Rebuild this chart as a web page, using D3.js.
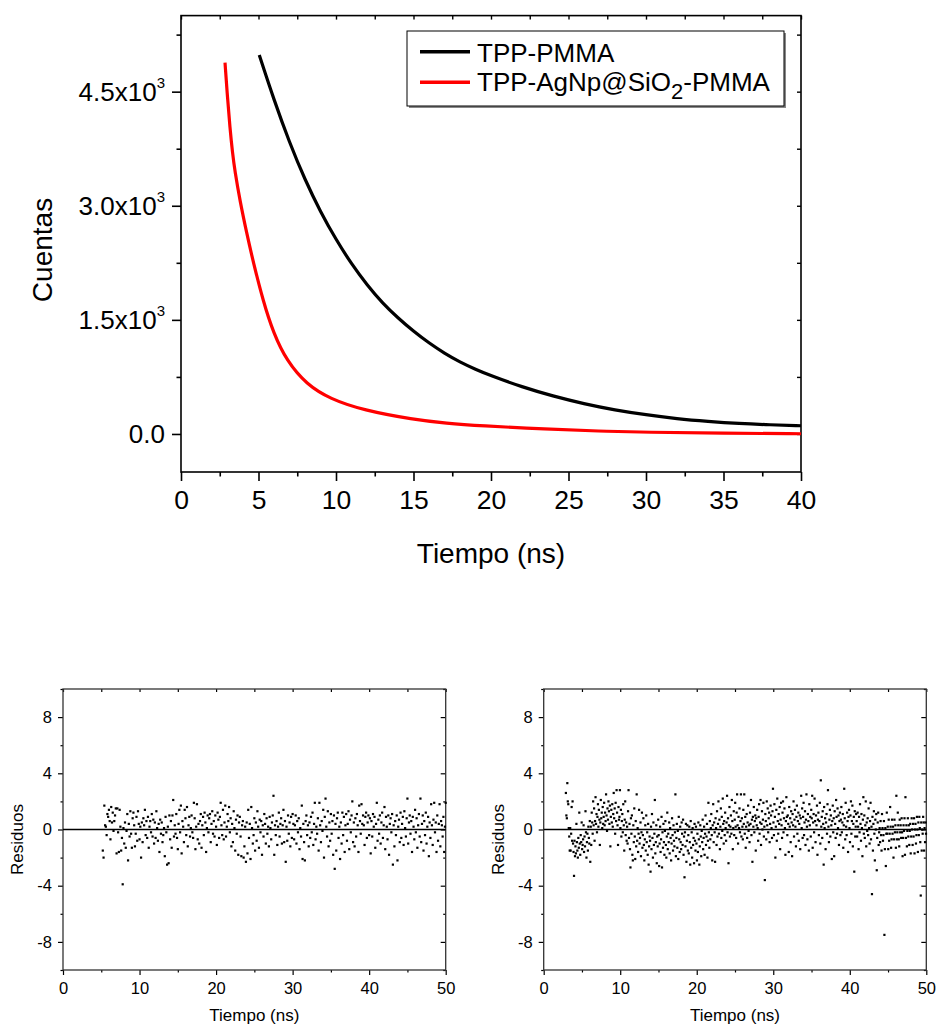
<!DOCTYPE html>
<html><head><meta charset="utf-8">
<script src="https://cdn.jsdelivr.net/npm/d3@7"></script>
<style>body{margin:0;background:#fff}svg text{font-family:"Liberation Sans",Arial,sans-serif}</style>
</head><body><svg id="c" width="937" height="1027"></svg>
<script>
// ---------- data: decay curves ----------
const blackT = [5.05,6,7,8,9,10,11,12,13,14,15,16,17,18,19,20,22,24,26,28,30,32,34,36,38,40];
const blackC = [4982,4390,3830,3340,2920,2555,2235,1960,1720,1525,1350,1195,1060,945,850,765,618,497,396,314,252,200,165,137,120,108];
const redT = [2.84,3.0,3.16,3.32,3.48,3.81,4.24,4.66,5.31,5.96,6.82,8.11,9.61,11.76,14.99,17.14,19.29,23.59,27,30,35,40];
const redC = [4881,4420,4020,3700,3450,3060,2640,2260,1740,1330,960,650,462,312,190,140,108,62,38,22,9,3];
const seriesNames = ["TPP-PMMA","TPP-AgNp@SiO","2","-PMMA"];
const xTicksTop = [0,5,10,15,20,25,30,35,40];
const yTicksTop = [0,1500,3000,4500];
const yTickMant = ["0.0","1.5x10","3.0x10","4.5x10"];
const yTickSup = ["","3","3","3"];
// ---------- data: residuals ----------
const resA_t0 = 5.2, resA_dt = 0.1;
const resA = [-1.5,-2.0,1.7,0.3,0.2,-0.4,1.1,0.9,1.4,0.6,
-0.7,1.6,0.5,1.2,-0.1,0.6,1.0,1.5,-1.7,1.5,
-0.2,-1.6,1.4,0.2,-1.5,-0.6,-3.9,0.1,-1.0,0.5,
-1.3,-0.1,1.1,-2.2,0.4,-0.5,1.3,-0.3,-1.3,0.8,
1.2,0.3,-1.2,-0.3,0.9,-0.8,1.3,0.4,-0.7,0.2,
-2.0,0.5,-0.9,0.8,0.3,1.4,-0.4,0.6,-0.6,0.9,
-1.3,0.2,0.6,-0.2,1.1,-0.5,0.7,-1.0,0.5,-0.6,
1.3,0.1,-0.8,0.4,-1.6,0.7,-0.3,0.5,-0.9,-0.4,
0.1,-1.9,0.9,-0.2,-2.5,0.2,-2.4,1.0,-0.7,0.6,
-1.3,1.0,2.1,-0.5,0.3,-0.3,1.1,-0.6,-1.4,0.4,
1.4,-0.2,1.7,-1.7,0.6,0.2,-0.9,1.4,0.8,-0.4,
1.6,-1.2,0.3,0.9,-0.5,0.1,1.0,-0.2,-0.6,1.9,
0.8,-1.4,0.2,1.8,-0.7,0.4,-1.0,0.6,1.1,-1.3,
0.3,0.9,-0.4,1.2,0.5,-1.6,0.1,1.0,-0.2,0.8,
1.1,-0.9,0.4,1.3,-0.3,0.6,-0.5,1.0,0.2,-1.1,
1.2,0.7,-0.6,0.9,1.9,0.3,-0.4,1.4,-0.7,0.5,
1.7,-0.5,0.2,1.1,0.6,1.6,-0.2,0.8,-1.2,0.4,
-0.9,1.3,0.1,-1.5,0.7,-0.3,1.0,-1.8,0.5,0.9,
-0.5,-1.9,0.3,0.6,-2.0,-1.2,0.2,-2.3,0.5,-1.7,
1.4,-0.6,0.4,-2.1,1.6,0.1,-1.0,-0.4,0.8,-1.5,
0.5,-0.8,1.3,0.2,-1.3,0.7,-0.2,0.6,-1.8,0.3,
-0.5,1.1,0.4,-1.0,0.8,-0.3,0.2,-1.2,0.9,0.1,
-0.7,0.5,1.0,2.4,-1.8,0.3,-0.4,0.6,-1.1,0.2,
1.2,-0.5,0.4,0.8,-1.0,0.3,1.4,-0.9,0.6,-2.3,
0.2,-0.8,1.0,-0.3,0.5,-1.2,0.9,-0.6,1.1,0.4,
-0.7,0.3,1.0,-1.0,0.6,-0.2,0.8,-1.4,0.1,-0.5,
1.7,-2.1,0.4,-0.9,-2.2,0.6,1.0,-0.4,0.3,-1.2,
0.5,-0.6,0.9,-0.2,1.2,-1.1,0.4,1.9,-0.7,0.2,
-0.3,0.8,-1.5,1.9,0.3,-0.9,0.6,-0.1,1.4,-2.0,
0.9,2.2,0.2,-0.5,1.3,-1.2,0.5,-0.8,1.1,-0.3,
0.6,-1.8,1.0,-2.8,0.4,-1.5,0.8,1.2,-0.6,0.2,
-2.1,0.5,-1.0,1.2,-0.4,0.9,-1.6,0.3,1.1,-0.8,
0.4,1.3,-1.4,0.7,-0.2,1.0,2.0,-0.9,0.5,-1.2,
0.8,-0.5,1.1,0.3,-1.6,1.7,0.6,-0.3,1.8,0.4,
1.0,0.3,-1.1,0.9,1.2,-0.6,0.5,1.0,-0.4,0.8,
-1.7,0.6,-0.5,1.1,0.2,0.9,-1.3,0.4,1.9,-0.8,
0.7,-0.3,1.0,-1.0,0.5,1.2,-0.6,0.3,1.6,-1.4,
0.9,0.2,-0.7,1.0,-1.8,0.4,0.8,-0.2,1.1,-2.5,
0.3,-1.2,0.6,-0.4,1.0,-2.2,0.2,0.7,-0.9,1.2,
-0.6,0.4,0.9,-1.1,1.3,0.1,-0.5,0.8,2.2,-1.0,
0.5,1.0,-0.3,0.6,-1.6,0.9,0.2,-0.7,1.4,-0.2,
0.8,-1.3,0.3,1.1,-0.5,2.2,-0.9,0.4,1.0,-1.5,
0.6,-0.4,1.2,-1.0,0.2,0.9,-1.9,0.5,-0.6,1.8,
0.3,-1.1,0.7,1.9,-0.2,0.5,-1.6,1.0,-0.8,0.4,
1.8,-1.2,0.6,0.3,-0.5,0.9,-1.6,0.2,1.9];
const resB_t0 = 2.9, resB_dt = 0.0625;
const resB = [2.6,1.0,0.8,3.3,2.0,1.8,0.1,-0.5,-1.5,0.1,-1.5,-0.3,1.6,-0.8,2.0,-1.0,
-1.6,-3.3,-0.8,-1.9,-1.2,-1.7,0.4,-0.9,-1.5,-2.0,-0.6,-1.3,1.2,-1.0,-1.8,-0.4,
-0.9,0.5,-1.4,-1.1,-0.7,0.3,-1.6,-0.5,-1.2,1.3,-0.2,-2.0,-0.9,-0.3,-1.5,0.2,
-0.6,-1.0,0.6,-2.3,0.2,-1.1,1.2,0.5,-0.3,2.0,0.3,1.5,-0.8,0.6,2.3,0.4,
1.1,-0.2,0.9,1.8,0.2,1.4,0.7,-1.1,0.5,2.1,0.8,1.2,0.1,1.6,0.4,0.9,
1.9,0.3,1.2,0.6,2.5,1.0,-0.1,1.5,0.7,2.0,1.3,0.4,1.7,-1.2,0.9,1.4,
0.5,1.8,0.2,1.1,2.6,0.8,1.5,-0.3,1.9,0.6,2.8,1.2,0.3,-1.1,1.6,0.7,
0.9,2.8,0.1,1.4,-0.5,0.6,1.1,-0.2,1.8,0.3,-1.5,0.7,2.0,-0.4,0.5,-0.8,
0.2,-1.0,1.3,2.8,-0.6,0.4,-1.4,-2.7,0.8,-0.3,1.0,-1.8,-2.2,0.3,-0.9,1.5,
-0.5,-2.1,0.6,-1.2,2.5,-0.8,0.1,-1.6,-0.3,1.4,-1.0,-0.6,0.5,-1.9,-0.2,1.2,
-1.3,-0.4,0.8,-1.1,-2.2,-0.7,0.3,-1.5,1.0,-0.9,-0.2,-1.8,0.4,-2.5,-1.2,-0.5,
-0.8,-3.0,0.2,-1.4,1.1,-0.6,-2.0,0.5,-1.1,-0.3,2.1,-1.7,-0.9,0.3,-2.4,-0.5,
-1.2,0.7,-0.4,-2.6,-1.0,0.2,-1.6,-0.7,0.9,-2.7,-0.2,-1.3,0.4,-0.9,-1.8,-0.1,
0.6,-1.1,-2.0,-0.5,1.2,-1.4,-0.3,-0.9,0.5,-1.7,0.1,-0.6,-2.2,-1.0,0.8,-0.4,
-1.5,0.3,-0.8,-1.2,-0.2,2.5,-1.9,-0.6,0.4,-1.3,-0.1,-2.1,0.9,-0.7,-1.6,0.2,
-0.9,-1.4,0.5,-0.3,-1.1,0.7,-1.8,-0.5,-3.4,-0.2,-1.2,0.4,-2.3,-0.8,0.3,-1.5,
-0.4,-1.7,0.2,-0.9,-2.5,0.6,-1.3,-0.2,-2.0,0.1,-1.1,-0.6,-2.4,0.4,-0.8,-1.5,
0.2,-1.0,-2.2,-0.3,-1.6,0.5,-0.7,-2.5,-1.2,0.3,-0.5,-1.9,-0.1,-0.9,0.7,-1.4,
-0.6,0.2,-1.8,-0.3,1.0,-1.1,-0.5,0.4,-2.0,-0.8,1.9,-0.2,-1.3,0.6,-0.7,0.1,
1.1,-0.4,-2.2,0.3,1.8,-0.9,0.5,-0.2,-2.3,0.8,0.1,-1.1,1.3,-0.5,0.4,2.0,
-0.3,0.7,-1.4,0.2,1.5,-0.6,0.9,-0.1,2.2,0.4,-1.0,0.6,-0.4,1.2,0.1,-0.8,
0.5,2.4,-0.2,0.8,-2.4,0.3,1.6,-0.5,0.2,1.0,-0.3,2.1,0.6,-1.4,0.1,1.3,
-0.4,0.7,1.9,0.2,-0.6,1.2,2.5,0.3,-1.0,0.9,0.1,1.5,-0.2,0.6,2.5,-0.5,
0.8,0.2,-0.7,1.4,0.4,2.5,-0.3,0.9,-1.3,0.2,1.1,-0.6,0.5,1.7,-0.1,0.3,
-0.9,1.2,0.4,2.1,-0.4,0.7,-2.3,0.9,0.2,1.6,-0.2,0.6,1.0,-1.5,0.8,0.3,
1.4,0.1,-0.8,0.9,1.8,-0.3,0.5,2.1,-1.1,0.4,1.3,0.0,0.7,1.9,-0.5,0.2,
-3.6,1.1,0.6,-0.7,2.0,0.3,1.5,-0.2,0.8,1.2,-0.9,0.4,1.7,1.0,0.1,-0.6,
1.3,2.9,0.5,-0.4,1.8,0.9,-2.0,0.2,1.4,-0.8,2.2,0.6,-0.3,1.1,0.4,1.6,
-1.4,0.7,1.9,0.3,-0.6,1.2,2.0,-0.2,0.8,1.5,0.1,-1.8,0.6,2.3,0.9,-0.4,
1.0,0.4,-1.6,1.6,0.2,0.8,-0.9,1.3,0.5,-1.9,1.1,0.3,2.0,-0.5,0.7,1.4,
0.2,-1.2,0.9,1.7,-0.3,0.6,1.2,-0.8,0.4,1.0,-1.4,0.8,2.4,0.1,1.5,-0.6,
0.9,1.9,-0.4,0.5,1.3,-1.1,0.7,2.5,0.2,-0.7,1.1,0.6,-1.5,1.8,0.3,0.9,
-0.5,1.4,0.8,2.4,-1.3,0.5,1.1,-0.2,2.2,0.6,-0.9,1.0,0.3,1.7,-1.8,0.7,
1.2,-0.4,0.6,1.9,-1.0,3.5,0.2,0.9,-0.6,1.3,0.4,-2.5,1.6,0.1,0.8,-1.4,
0.5,1.1,-0.3,1.8,2.8,0.2,-0.9,0.7,1.4,-0.5,1.0,0.3,-2.1,0.6,1.7,-0.2,
0.8,-1.9,1.3,0.4,-0.6,2.1,0.9,-0.3,1.5,0.1,1.0,-1.1,0.6,1.2,-0.4,0.7,
1.6,-0.2,0.5,1.1,-1.3,0.3,2.9,0.8,-0.7,1.9,0.2,-0.4,1.2,0.6,-1.6,0.9,
1.4,0.1,-0.9,1.0,2.0,-0.3,0.6,1.7,-1.2,0.4,0.9,-3.0,1.3,-0.5,0.2,1.1,
0.6,-0.5,1.2,0.2,-1.4,0.9,-0.2,1.8,0.4,-0.8,1.1,0.1,-1.9,0.7,2.3,-0.3,
1.0,-0.6,0.3,2.0,-1.2,0.5,-0.1,0.8,-0.4,1.5,0.1,-1.0,0.6,1.9,-0.7,0.2,
-4.6,0.9,-1.5,0.4,1.3,-0.3,-2.2,0.7,0.0,1.1,-2.9,-0.6,0.5,1.2,-1.1,-0.2,
0.1,-0.9,0.6,-0.4,-1.5,1.1,0.1,-0.8,-0.4,0.6,-7.5,-1.4,0.1,-2.6,-0.3,1.2,
-0.3,0.2,-1.4,0.7,-0.8,-0.3,1.6,0.2,-1.3,-0.7,0.7,-0.3,0.2,-2.0,-0.7,0.7,
-0.2,0.3,-1.3,2.4,-0.7,-0.2,1.2,0.3,-0.7,-1.2,0.7,-0.2,0.3,-0.6,0.8,-0.2,
-1.9,-0.6,0.3,-0.1,0.8,-1.8,2.3,-0.6,0.3,-1.2,-0.1,0.8,-0.5,0.3,-1.1,-0.1,
0.4,-1.7,-0.5,0.8,0.0,-1.1,0.4,-0.5,0.8,-1.7,0.0,0.4,-1.0,-0.4,0.9,0.0,
-1.6,0.5,-0.4,0.9,0.1,-0.9,-4.7,0.5,-1.5,0.0,-0.3,0.9,0.5,-1.5,0.1,-0.9,
0.5,-0.3];
const resXTicks = [0,10,20,30,40,50];
const resYTicks = [-8,-4,0,4,8];

// ---------- drawing ----------
const svg = d3.select("#c");

function styleAxis(g, w){
  g.select(".domain").remove();
  g.attr("font-family", null).attr("font-size", null);
  g.selectAll("line").attr("stroke","#000").attr("stroke-width", w);
  return g;
}

// ---- top chart ----
const T = {l:181, r:801, t:15.6, b:472};
const x1 = d3.scaleLinear().domain([0,40]).range([T.l,T.r]);
const y1 = d3.scaleLinear().domain([-500,5500]).range([T.b,T.t]);
const minorX1 = d3.range(2.5,40,5);
const minorY1 = [750,2250,3750,5250];

styleAxis(svg.append("g").attr("transform",`translate(0,${T.b})`)
  .call(d3.axisBottom(x1).tickValues(xTicksTop).tickSize(9).tickPadding(9)), 1.6)
  .selectAll("text").attr("font-size", 26.5).attr("fill","#000");
styleAxis(svg.append("g").attr("transform",`translate(0,${T.b})`)
  .call(d3.axisBottom(x1).tickValues(minorX1).tickSize(4.5).tickFormat("")), 1.6);
styleAxis(svg.append("g").attr("transform",`translate(0,${T.t})`)
  .call(d3.axisTop(x1).tickValues(xTicksTop.concat(minorX1)).tickSize(-4).tickFormat("")), 1.4);
styleAxis(svg.append("g").attr("transform",`translate(${T.l},0)`)
  .call(d3.axisLeft(y1).tickValues(yTicksTop).tickSize(9).tickFormat("")), 1.6);
styleAxis(svg.append("g").attr("transform",`translate(${T.l},0)`)
  .call(d3.axisLeft(y1).tickValues(minorY1).tickSize(4.5).tickFormat("")), 1.6);
styleAxis(svg.append("g").attr("transform",`translate(${T.r},0)`)
  .call(d3.axisRight(y1).tickValues(yTicksTop.concat(minorY1)).tickSize(-4).tickFormat("")), 1.4);

// y tick labels with superscripts
yTicksTop.forEach((v,i)=>{
  const t = svg.append("text").attr("x", T.l-16).attr("y", y1(v)+9)
    .attr("text-anchor","end").attr("font-size",26).attr("fill","#000");
  t.append("tspan").text(yTickMant[i]);
  if (yTickSup[i]) t.append("tspan").attr("font-size",15).attr("dy",-13).text(yTickSup[i]);
});

svg.append("rect").attr("x",T.l).attr("y",T.t).attr("width",T.r-T.l).attr("height",T.b-T.t)
  .attr("fill","none").attr("stroke","#000").attr("stroke-width",1.6);

const clipId = "clipTop";
svg.append("clipPath").attr("id",clipId).append("rect")
  .attr("x",T.l).attr("y",T.t).attr("width",T.r-T.l).attr("height",T.b-T.t);

const line1 = d3.line().curve(d3.curveBasis).x(d=>x1(d[0])).y(d=>y1(d[1]));
svg.append("path").datum(blackT.map((t,i)=>[t,blackC[i]])).attr("d",line1)
  .attr("fill","none").attr("stroke","#000").attr("stroke-width",3.2).attr("clip-path",`url(#${clipId})`);
svg.append("path").datum(redT.map((t,i)=>[t,redC[i]])).attr("d",line1)
  .attr("fill","none").attr("stroke","#ff0000").attr("stroke-width",3.2).attr("clip-path",`url(#${clipId})`);

// legend
const L = svg.append("g");
L.append("rect").attr("x",409).attr("y",33).attr("width",377).attr("height",75).attr("fill","#888");
L.append("rect").attr("x",407).attr("y",31).attr("width",377).attr("height",75)
  .attr("fill","#fff").attr("stroke","#000").attr("stroke-width",1);
L.append("line").attr("x1",420).attr("x2",470).attr("y1",51.7).attr("y2",51.7).attr("stroke","#000").attr("stroke-width",3.5);
L.append("line").attr("x1",420).attr("x2",470).attr("y1",82.3).attr("y2",82.3).attr("stroke","#ff0000").attr("stroke-width",3.5);
L.append("text").attr("x",477).attr("y",61.5).attr("font-size",26).attr("fill","#000").text(seriesNames[0]);
const lt = L.append("text").attr("x",477).attr("y",91).attr("font-size",26).attr("fill","#000");
lt.append("tspan").text(seriesNames[1]);
lt.append("tspan").attr("font-size",22).attr("dy",8).text(seriesNames[2]);
lt.append("tspan").attr("dy",-8).text(seriesNames[3]);

// axis titles
svg.append("text").attr("x",(T.l+T.r)/2).attr("y",563).attr("text-anchor","middle")
  .attr("font-size",28).attr("fill","#000").text("Tiempo (ns)");
svg.append("text").attr("transform",`translate(52,250) rotate(-90)`).attr("text-anchor","middle")
  .attr("font-size",28).attr("fill","#000").text("Cuentas");

// ---- residual charts ----
function residualChart(l, r, data, t0, dt){
  const P = {l, r, t:689, b:970};
  const x = d3.scaleLinear().domain([0,50]).range([P.l,P.r]);
  const y = d3.scaleLinear().domain([-10,10]).range([P.b,P.t]);
  const g = svg.append("g");
  const mx = [5,15,25,35,45], my = [-10,-6,-2,2,6,10];
  const fmt = d => String(d);
  styleAxis(g.append("g").attr("transform",`translate(0,${P.b})`)
    .call(d3.axisBottom(x).tickValues(resXTicks).tickSize(5).tickPadding(7).tickFormat(fmt)), 1.2)
    .selectAll("text").attr("font-size",16.5).attr("fill","#000");
  styleAxis(g.append("g").attr("transform",`translate(0,${P.b})`)
    .call(d3.axisBottom(x).tickValues(mx).tickSize(2.5).tickFormat("")), 1.2);
  styleAxis(g.append("g").attr("transform",`translate(0,${P.t})`)
    .call(d3.axisTop(x).tickValues(resXTicks.concat(mx)).tickSize(-3).tickFormat("")), 1.2);
  styleAxis(g.append("g").attr("transform",`translate(${P.l},0)`)
    .call(d3.axisLeft(y).tickValues(resYTicks).tickSize(5).tickPadding(6).tickFormat(fmt)), 1.2)
    .selectAll("text").attr("font-size",16.5).attr("fill","#000");
  styleAxis(g.append("g").attr("transform",`translate(${P.l},0)`)
    .call(d3.axisLeft(y).tickValues(my).tickSize(2.5).tickFormat("")), 1.2);
  styleAxis(g.append("g").attr("transform",`translate(${P.r},0)`)
    .call(d3.axisRight(y).tickValues(resYTicks).tickSize(-5).tickFormat("")), 1.2);
  styleAxis(g.append("g").attr("transform",`translate(${P.r},0)`)
    .call(d3.axisRight(y).tickValues(my).tickSize(-2.5).tickFormat("")), 1.2);
  g.append("rect").attr("x",P.l).attr("y",P.t).attr("width",P.r-P.l).attr("height",P.b-P.t)
    .attr("fill","none").attr("stroke","#333").attr("stroke-width",1.3);
  g.append("line").attr("x1",P.l).attr("x2",P.r).attr("y1",y(0)).attr("y2",y(0))
    .attr("stroke","#000").attr("stroke-width",1.6);
  g.selectAll("rect.pt").data(data).join("rect").attr("class","pt")
    .attr("x",(d,i)=>x(t0+i*dt)-1.1).attr("y",d=>y(d)-1.1)
    .attr("width",2.2).attr("height",2.2).attr("fill","#000");
  g.append("text").attr("x",(P.l+P.r)/2).attr("y",1021).attr("text-anchor","middle")
    .attr("font-size",17).attr("fill","#000").text("Tiempo (ns)");
  g.append("text").attr("transform",`translate(${P.l-40},${y(0)+10}) rotate(-90)`).attr("text-anchor","middle")
    .attr("font-size",17).attr("fill","#000").text("Residuos");
}
residualChart(63, 445.7, resA, resA_t0, resA_dt);
residualChart(543.7, 926.3, resB, resB_t0, resB_dt);
</script></body></html>
